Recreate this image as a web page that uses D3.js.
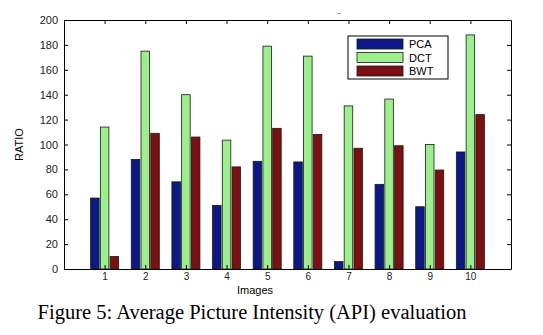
<!DOCTYPE html>
<html>
<head>
<meta charset="utf-8">
<script src="https://cdn.jsdelivr.net/npm/d3@7"></script>
<style>
  body { margin: 0; background: #fff; }
  svg text { font-family: "Liberation Sans", Arial, sans-serif; }
</style>
</head>
<body>
<script>
"use strict";

// data
var images = [1, 2, 3, 4, 5, 6, 7, 8, 9, 10];
var pca = [57, 88, 70, 51, 86.5, 86, 6, 68, 50, 94];
var dct = [114, 175, 140, 103.5, 179, 171, 131, 136.5, 100, 188];
var bwt = [10, 109, 106, 82, 113, 108, 97, 99, 79.5, 124];
var seriesNames = ["PCA", "DCT", "BWT"];
var seriesColors = ["#0b1888", "#9cf08c", "#7c0f10"];
var yTicks = [0, 20, 40, 60, 80, 100, 120, 140, 160, 180, 200];

var margin = {top: 20, right: 32, bottom: 66, left: 64},
    width = 543 - margin.left - margin.right,
    height = 335 - margin.top - margin.bottom;

var x = d3.scaleLinear().domain([0, 11]).range([0, width]);
var y = d3.scaleLinear().domain([0, 200]).range([height, 0]);

var svg = d3.select("body").append("svg")
    .attr("width", 543)
    .attr("height", 335);

var g = svg.append("g")
    .attr("transform", "translate(" + margin.left + "," + margin.top + ")");

// bars
var allSeries = [pca, dct, bwt];
var step = x(1) - x(0);
var barW = step * 0.21;
var pitch = step * 0.24;

allSeries.forEach(function(vals, s) {
  g.selectAll(".bar" + s)
    .data(vals)
    .enter().append("rect")
      .attr("x", function(d, i) { return x(images[i]) + (s - 1) * pitch - barW / 2; })
      .attr("y", function(d) { return y(d); })
      .attr("width", barW)
      .attr("height", function(d) { return height - y(d); })
      .attr("fill", seriesColors[s])
      .attr("stroke", "#1a1a1a")
      .attr("stroke-width", 0.8);
});

// axes (ticks inward, box)
g.append("g")
    .attr("class", "xaxis")
    .attr("transform", "translate(0," + height + ")")
    .call(d3.axisBottom(x).tickValues(images).tickSize(-4).tickPadding(4).tickSizeOuter(0));
g.append("g")
    .call(d3.axisTop(x).tickValues(images).tickSize(-4).tickFormat("").tickSizeOuter(0));
g.append("g")
    .call(d3.axisLeft(y).tickValues(yTicks).tickSize(-4).tickPadding(6).tickSizeOuter(0));
g.append("g")
    .attr("transform", "translate(" + width + ",0)")
    .call(d3.axisRight(y).tickValues(yTicks).tickSize(-4).tickFormat("").tickSizeOuter(0));

g.selectAll(".domain").attr("stroke", "#000");
g.selectAll(".tick line").attr("stroke", "#000");
g.selectAll(".tick text").attr("font-size", 11).attr("fill", "#222")
    .style("font-family", "Liberation Sans, Arial, sans-serif");
g.selectAll(".xaxis .tick text").attr("font-size", 10);

// axis labels
svg.append("text")
    .attr("x", margin.left + x(4.7))
    .attr("y", 294)
    .attr("text-anchor", "middle")
    .attr("font-size", 11)
    .text("Images");

svg.append("text")
    .attr("transform", "translate(23," + (margin.top + y(100)) + ") rotate(-90)")
    .attr("text-anchor", "middle")
    .attr("font-size", 11)
    .text("RATIO");

// stray title mark
svg.append("text")
    .attr("x", 339)
    .attr("y", 15)
    .attr("text-anchor", "middle")
    .attr("font-size", 8)
    .text("-");

// legend
var legend = svg.append("g").attr("transform", "translate(348,36)");
legend.append("rect")
    .attr("width", 100)
    .attr("height", 43)
    .attr("fill", "#fff")
    .attr("stroke", "#000")
    .attr("stroke-width", 1);
seriesNames.forEach(function(name, i) {
  legend.append("rect")
    .attr("x", 9)
    .attr("y", 3 + i * 13.5)
    .attr("width", 46)
    .attr("height", 10)
    .attr("fill", seriesColors[i])
    .attr("stroke", "#1a1a1a")
    .attr("stroke-width", 0.8);
  legend.append("text")
    .attr("x", 61)
    .attr("y", 12 + i * 13.5)
    .attr("font-size", 11)
    .text(name);
});

// caption
svg.append("text")
    .attr("x", 252)
    .attr("y", 319)
    .attr("text-anchor", "middle")
    .attr("font-size", 20.5)
    .style("font-family", "Liberation Serif, 'Times New Roman', serif")
    .text("Figure 5: Average Picture Intensity (API) evaluation");
</script>
</body>
</html>
